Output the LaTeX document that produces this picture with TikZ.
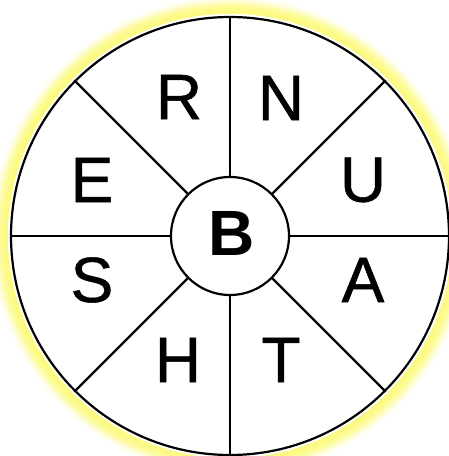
\documentclass[tikz,border=0pt]{standalone}
\usepackage{fontspec}
\setmainfont{Liberation Sans}
\newfontfamily\wheelfont[FakeBold=0.8]{Liberation Sans}
\usepackage{xcolor}
\usetikzlibrary{positioning}

\definecolor{glowyellow}{RGB}{252,250,130}

\tikzset{
  wheelline/.style={line width=2.2pt, black},
  letter/.style={inner sep=0pt, font=\wheelfont\fontsize{64}{64}\selectfont},
}

\begin{document}
\begin{tikzpicture}[x=1pt, y=1pt]
        \useasboundingbox (-230,-220) rectangle (219,236);

        % soft yellow halo around the wheel
        \foreach \r/\o in {223/1, 225/1, 227/0.95, 229/0.85, 231/0.7, 233/0.5, 235/0.3, 237/0.15, 239/0.05}
            \draw[glowyellow, line width=2.2pt, opacity=\o] (0,0) circle (\r);
        \fill[white] (0,0) circle (222);

        % rim and hub
        \node[circle, draw, wheelline, minimum size=438pt, inner sep=0pt] (rim) at (0,0) {};
        \node[circle, draw, wheelline, minimum size=118pt, inner sep=0pt] (hub) at (0,0) {};
        \node[inner sep=0pt, font=\fontsize{64}{64}\selectfont\bfseries] (b) at (2,3) {B};

        % spokes
        \foreach \a in {0,45,...,315}
            \draw[wheelline] (hub.\a) -- (rim.\a);

        % outer letters
        \node[letter] (r) at (-51,139) {R};
        \node[letter] (n) at (51,138) {N};
        \node[letter] (e) at (-138,56) {E};
        \node[letter] (u) at (133,56) {U};
        \node[letter] (s) at (-138,-44) {S};
        \node[letter] (a) at (133,-44) {A};
        \node[letter] (h) at (-52,-124) {H};
        \node[letter] (t) at (51,-124) {T};
    \end{tikzpicture}
\end{document}
